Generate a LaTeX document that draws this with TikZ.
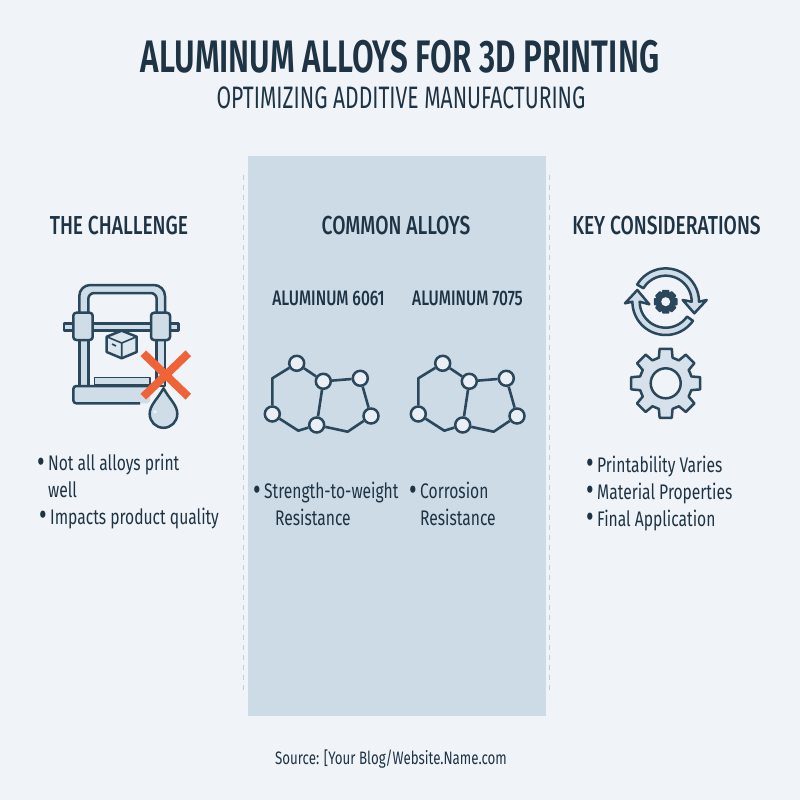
\documentclass[tikz,border=0pt]{standalone}
\usepackage{fontspec}
\setmainfont{Fira Sans}[FakeStretch=0.74]
\newfontfamily\headfont{Fira Sans Medium}[FakeStretch=0.74]
\newfontfamily\titlefont{Fira Sans SemiBold}[FakeStretch=0.69]
\newfontfamily\subtitlefont{Fira Sans}[FakeStretch=0.68]
\usetikzlibrary{positioning}
\definecolor{inkdark}{HTML}{1E3344}
\definecolor{iconline}{HTML}{2B475C}
\definecolor{iconfill}{HTML}{CFDDE8}
\definecolor{panelblue}{HTML}{CDDBE7}
\definecolor{pagebg}{HTML}{F0F3F8}
\definecolor{crossred}{HTML}{EF6339}
\newcommand{\bul}{\makebox[11pt][l]{\smash{\raisebox{-1.5pt}{\scalebox{1.5}{•}}}}}
\tikzset{
	headtxt/.style={font=\headfont\fontsize{26}{26}\selectfont, text=inkdark},
	subtxt/.style={font=\headfont\fontsize{21}{21}\selectfont, text=inkdark},
	bodytxt/.style={font=\fontsize{21.1}{21.1}\selectfont, text=inkdark, anchor=base west, inner sep=0pt},
	icon/.style={draw=iconline, line width=2.5pt, fill=iconfill, line join=round},
	atom/.style={circle, draw=iconline, line width=2.5pt, fill=pagebg!80!iconfill, minimum size=15pt, inner sep=0pt},
	bond/.style={draw=iconline, line width=2.6pt, line join=round},
	guide/.style={iconfill!90!iconline, line width=1pt, dash pattern=on 5pt off 5pt},
}
\begin{document}
\begin{tikzpicture}[x=1pt, y=-1pt]
	\useasboundingbox (0,0) rectangle (800,800);
	\fill[pagebg] (0,0) rectangle (800,800);
	\fill[panelblue] (248,156) rectangle (546,716);
	\draw[guide] (243,175) -- (243,695);
	\draw[guide] (549,175) -- (549,695);

	% titoli
	\node[font=\titlefont\fontsize{45.6}{45.6}\selectfont, text=inkdark] (title) at (400,57) {ALUMINUM ALLOYS FOR 3D PRINTING};
	\node[font=\subtitlefont\fontsize{31}{31}\selectfont, text=inkdark] (subtitle) at (401,98) {OPTIMIZING ADDITIVE MANUFACTURING};

	\node[headtxt] (challenge) at (119,226) {THE CHALLENGE};
	\node[headtxt] (alloys) at (396,226) {COMMON ALLOYS};
	\node[headtxt] (consider) at (666.5,226) {KEY CONSIDERATIONS};
	\node[subtxt] (al6061) at (328.5,298) {ALUMINUM 6061};
	\node[subtxt] (al7075) at (467.5,298) {ALUMINUM 7075};

	% stampante
	\draw[icon] (79.3,340) -- (79.3,296) arc[start angle=180, end angle=270, radius=11] -- (154,285) arc[start angle=270, end angle=360, radius=11] -- (165,340) -- (156.7,340) -- (156.7,299) arc[start angle=360, end angle=270, radius=6] -- (94.3,293) arc[start angle=270, end angle=180, radius=6] -- (88.3,340) -- cycle;
	\draw[icon] (79.3,338) rectangle (88.3,386);
	\draw[icon] (156.7,338) rectangle (165,386);
	\draw[icon] (64,323.3) rectangle (178.3,330.7);
	\draw[icon, rounded corners=3pt] (73.3,312.7) rectangle (92.7,340);
	\draw[icon, rounded corners=3pt] (151,312.7) rectangle (170,340);
	\draw[icon, line width=1.5pt] (94.3,377.7) rectangle (150,385);
	\fill[iconfill, rounded corners=3pt] (73.3,386) rectangle (150,403.3);
	\draw[iconline, line width=2.5pt, rounded corners=3pt] (140,403.3) -- (73.3,403.3) -- (73.3,386) -- (150,386);
	% cubo
	\draw[icon, fill=iconfill!60!pagebg] (121.7,330.7) -- (136.7,336.7) -- (136.7,352) -- (121.7,358.3) -- (106.7,352) -- (106.7,336.7) -- cycle;
	\draw[iconline, line width=1.6pt] (106.7,336.7) -- (121.7,343) -- (136.7,336.7) (121.7,343) -- (121.7,358.3);
	\draw[iconline, line width=1.6pt] (112,344) -- (116,346);
	% goccia
	\draw[icon] (163.5,388.3) .. controls (170,400) and (177.3,405) .. (177.3,414) arc[start angle=0, end angle=180, radius=13.8] .. controls (149.7,405) and (157,400) .. (163.5,388.3) -- cycle;
	\fill[pagebg] (155,411.7) circle (1.8);
	% croce
	\draw[crossred, line width=8pt] (143.3,353.3) -- (188.3,396.7);
	\draw[crossred, line width=8pt] (188.3,353.3) -- (143.3,396.7);

	% molecole
	\foreach \dx/\m in {0/a,146/b}{
		\begin{scope}[xshift=\dx pt]
			\node[atom] (\m1) at (296.7,363.3) {};
			\node[atom] (\m2) at (323.3,381.3) {};
			\node[atom] (\m3) at (360.3,378.3) {};
			\node[atom] (\m4) at (371,416) {};
			\node[atom] (\m5) at (316.7,425) {};
			\node[atom] (\m6) at (272.3,414) {};
			\coordinate (\m7) at (272.3,378.3);
			\coordinate (\m8) at (298.3,430.7);
			\coordinate (\m9) at (347.7,431.7);
			\draw[bond] (\m1) -- (\m7) -- (\m6);
			\draw[bond] (\m6) -- (\m8) -- (\m5);
			\draw[bond] (\m5) -- (\m9) -- (\m4);
			\draw[bond] (\m1) -- (\m2);
			\draw[bond] (\m2) -- (\m3);
			\draw[bond] (\m3) -- (\m4);
			\draw[bond] (\m2) -- (\m5);
		\end{scope}
	}

	% frecce
	\draw[icon] plot[domain=211:360, samples=40] ({665.7+33.3*cos(\x)},{301.7+33.3*sin(\x)}) -- (706.7,300) -- (694.3,313.3) -- (682.7,300) -- plot[domain=360:211, samples=40] ({665.7+26*cos(\x)},{301.7+26*sin(\x)}) -- cycle;
	\draw[icon] plot[domain=35:180, samples=40] ({665.7+33.3*cos(\x)},{301.7+33.3*sin(\x)}) -- (625,303.3) -- (637.3,290) -- (649.3,304.3) -- plot[domain=180:35, samples=40] ({665.7+26*cos(\x)},{301.7+26*sin(\x)}) -- cycle;

	% ingranaggi
	\begin{scope}[shift={(665.7,301.7)}]
		\draw[icon, fill=iconline, line width=1.5pt] (-22.5:8.5) \foreach \a in {0,45,...,315}{ -- (\a-14:11.5) -- (\a+14:11.5) -- (\a+22.5:8.5) } -- cycle;
		\fill[pagebg] (0,0) circle (4.5);
	\end{scope}
	\begin{scope}[shift={(665.7,383.3)}]
		\draw[icon, fill=iconfill!80!pagebg] (-22.5:26.5) \foreach \a in {0,45,...,315}{ -- (\a-15:26.5) -- (\a-10:35) -- (\a+10:35) -- (\a+15:26.5) } -- cycle;
		\draw[icon, fill=pagebg] (0,0) circle (15);
	\end{scope}

	% elenchi
	\node[bodytxt] (chA) at (37,470.5) {\bul Not all alloys print};
	\node[bodytxt] (chB) at (48,497.5) {well};
	\node[bodytxt] (chC) at (39,524) {\bul Impacts product quality};
	\node[bodytxt] (alA) at (253,498.5) {\bul Strength-to-weight};
	\node[bodytxt] (alB) at (275,525.5) {Resistance};
	\node[bodytxt] (alC) at (409,498.5) {\bul Corrosion};
	\node[bodytxt] (alD) at (420,525.5) {Resistance};
	\node[bodytxt] (coA) at (586,472) {\bul Printability Varies};
	\node[bodytxt] (coB) at (586,499) {\bul Material Properties};
	\node[bodytxt] (coC) at (586,526) {\bul Final Application};

	\node[font=\fontsize{18}{18}\selectfont, text=inkdark] (source) at (391,759) {Source: [Your Blog/Website.Name.com};
\end{tikzpicture}
\end{document}
